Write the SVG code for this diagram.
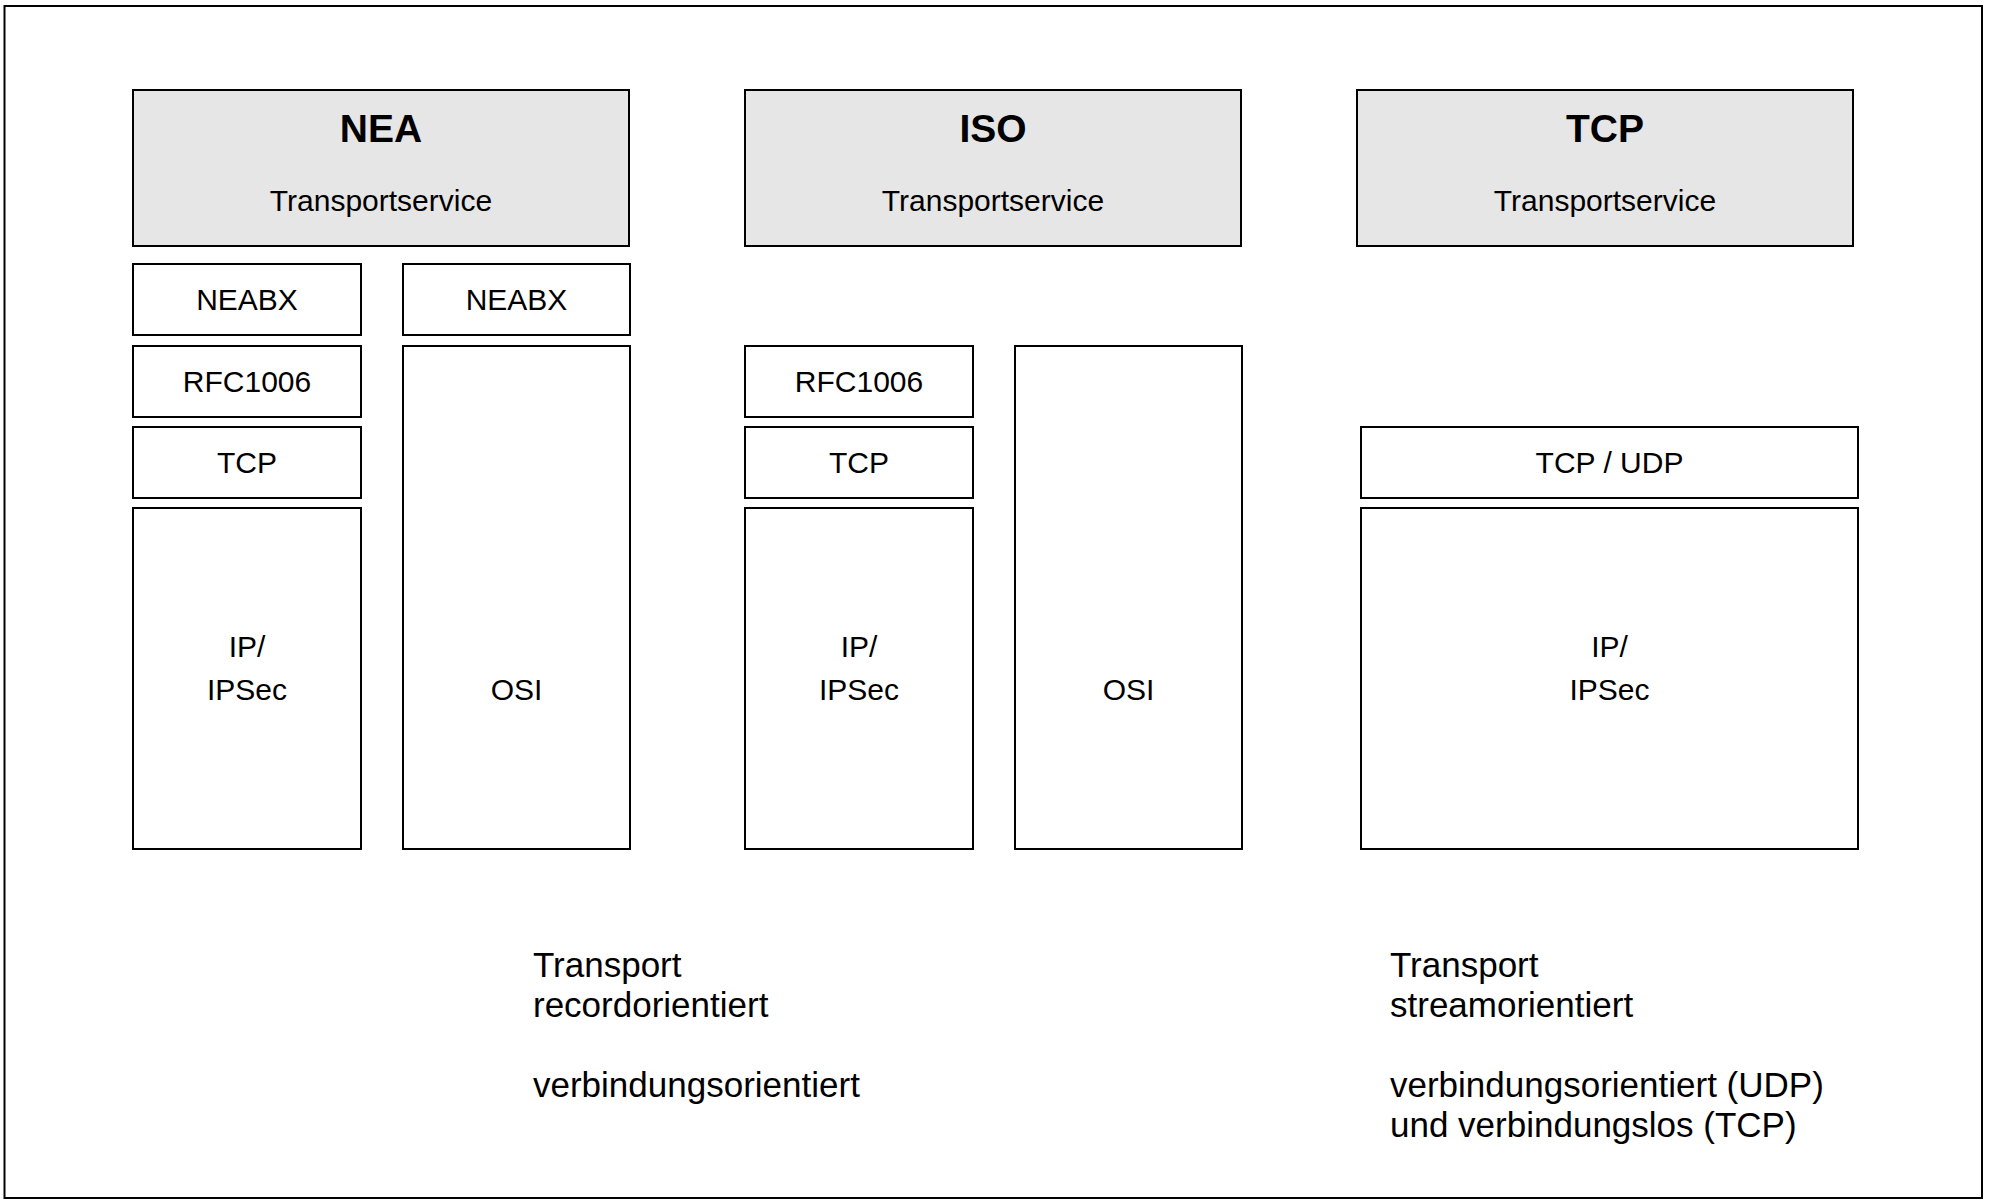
<svg xmlns="http://www.w3.org/2000/svg" width="1989" height="1204" viewBox="0 0 1989 1204">
<style>
.frame{fill:#ffffff;stroke:#000000;stroke-width:2}
.hdr{fill:#e6e6e6;stroke:#000000;stroke-width:2}
.box{fill:#ffffff;stroke:#000000;stroke-width:2}
text{font-family:"Liberation Sans",Arial,Helvetica,sans-serif;fill:#000000}
.t{font-size:30px;text-anchor:middle}
.title{font-size:39px;font-weight:bold;text-anchor:middle}
.note{font-size:35px}
</style>
<rect x="0" y="0" width="1989" height="1204" fill="#ffffff"/>
<rect class="frame" x="4.5" y="6" width="1977.5" height="1192"/>

<g id="nea-header"><rect class="hdr" x="133" y="90" width="496" height="156"/><text class="title" x="381" y="141.5">NEA</text><text class="t" x="381" y="211">Transportservice</text></g>
<g id="nea-neabx1"><rect class="box" x="133" y="264" width="228" height="71"/><text class="t" x="247" y="309.5">NEABX</text></g>
<g id="nea-neabx2"><rect class="box" x="403" y="264" width="227" height="71"/><text class="t" x="516.5" y="309.5">NEABX</text></g>
<g id="nea-rfc1006"><rect class="box" x="133" y="346" width="228" height="71"/><text class="t" x="247" y="391.5">RFC1006</text></g>
<g id="nea-tcp"><rect class="box" x="133" y="427" width="228" height="71"/><text class="t" x="247" y="472.5">TCP</text></g>
<g id="nea-ip"><rect class="box" x="133" y="508" width="228" height="341"/><text class="t" x="247" y="656.5">IP/</text><text class="t" x="247" y="699.5">IPSec</text></g>
<g id="nea-osi"><rect class="box" x="403" y="346" width="227" height="503"/><text class="t" x="516.5" y="699.5">OSI</text></g>

<g id="iso-header"><rect class="hdr" x="745" y="90" width="496" height="156"/><text class="title" x="993" y="141.5">ISO</text><text class="t" x="993" y="211">Transportservice</text></g>
<g id="iso-rfc1006"><rect class="box" x="745" y="346" width="228" height="71"/><text class="t" x="859" y="391.5">RFC1006</text></g>
<g id="iso-tcp"><rect class="box" x="745" y="427" width="228" height="71"/><text class="t" x="859" y="472.5">TCP</text></g>
<g id="iso-ip"><rect class="box" x="745" y="508" width="228" height="341"/><text class="t" x="859" y="656.5">IP/</text><text class="t" x="859" y="699.5">IPSec</text></g>
<g id="iso-osi"><rect class="box" x="1015" y="346" width="227" height="503"/><text class="t" x="1128.5" y="699.5">OSI</text></g>

<g id="tcp-header"><rect class="hdr" x="1357" y="90" width="496" height="156"/><text class="title" x="1605" y="141.5">TCP</text><text class="t" x="1605" y="211">Transportservice</text></g>
<g id="tcp-tcpudp"><rect class="box" x="1361" y="427" width="497" height="71"/><text class="t" x="1609.5" y="472.5">TCP / UDP</text></g>
<g id="tcp-ip"><rect class="box" x="1361" y="508" width="497" height="341"/><text class="t" x="1609.5" y="656.5">IP/</text><text class="t" x="1609.5" y="699.5">IPSec</text></g>

<g id="connectors"></g>

<g id="note-left"><text class="note" x="533" y="977">Transport</text><text class="note" x="533" y="1017">recordorientiert</text><text class="note" x="533" y="1097">verbindungsorientiert</text></g>
<g id="note-right"><text class="note" x="1390" y="977">Transport</text><text class="note" x="1390" y="1017">streamorientiert</text><text class="note" x="1390" y="1097">verbindungsorientiert (UDP)</text><text class="note" x="1390" y="1137">und verbindungslos (TCP)</text></g>
</svg>
